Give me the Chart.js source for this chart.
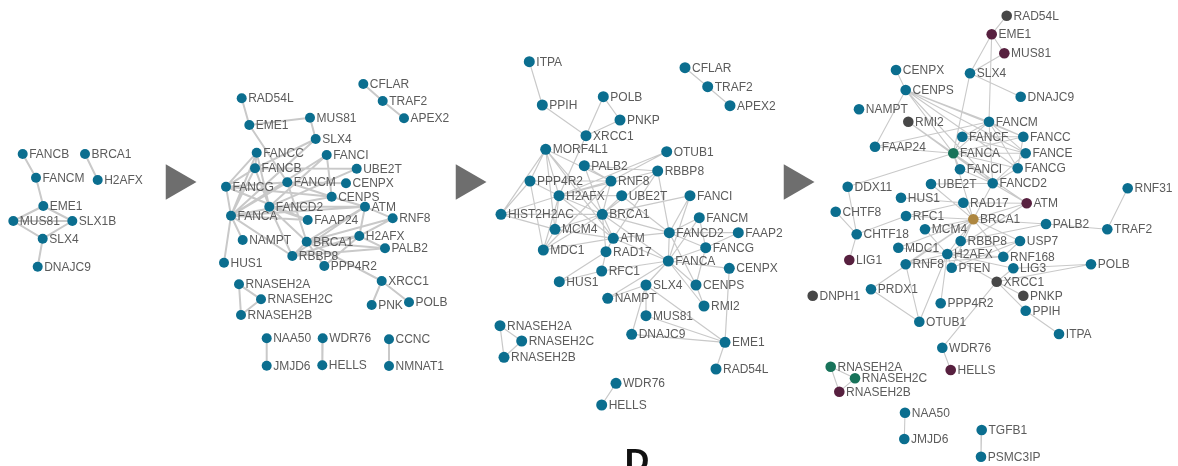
<!DOCTYPE html>
<html>
<head>
<meta charset="utf-8">
<script src="https://cdn.jsdelivr.net/npm/chart.js@4.4.1/dist/chart.umd.min.js"></script>
<style>
  html, body { margin: 0; padding: 0; background: #ffffff; }
  #wrap { width: 1178px; height: 466px; position: relative; }
</style>
</head>
<body>
<div id="wrap"><canvas id="net" width="1178" height="466"></canvas></div>
<script>
// ---- Network stage 1: seed genes ----
const stage1Nodes = [
  ["FANCB", 22.7, 154], ["BRCA1", 85, 154], ["FANCM", 36, 177.7], ["H2AFX", 97.7, 180],
  ["EME1", 43.3, 206], ["MUS81", 13.3, 221], ["SLX1B", 72.3, 221], ["SLX4", 42.7, 238.7],
  ["DNAJC9", 37.7, 266.7]
];
const stage1Edges = [
  ["FANCB", "FANCM"], ["BRCA1", "H2AFX"], ["FANCM", "EME1"], ["EME1", "MUS81"], ["EME1", "SLX1B"],
  ["MUS81", "SLX1B"], ["MUS81", "SLX4"], ["SLX1B", "SLX4"], ["SLX4", "DNAJC9"]
];

// ---- Network stage 2 ----
const stage2Nodes = [
  ["CFLAR", 363.3, 84], ["TRAF2", 382.7, 101], ["APEX2", 404, 118.3], ["RAD54L", 241.7, 98.3],
  ["EME1", 249.3, 125], ["MUS81", 310, 117.7], ["SLX4", 315.7, 139], ["FANCC", 256.7, 152.7],
  ["FANCI", 326.7, 155], ["FANCB", 255, 168.3], ["UBE2T", 356.7, 168.7], ["FANCG", 226, 186.7],
  ["FANCM", 287.3, 182.3], ["CENPX", 346, 183.3], ["CENPS", 331.7, 196.7], ["FANCD2", 269.3, 206.7],
  ["ATM", 365, 206.7], ["FANCA", 231, 215.7], ["FAAP24", 307.7, 220], ["RNF8", 392.7, 218.3],
  ["NAMPT", 242.7, 240], ["BRCA1", 306.7, 241.7], ["H2AFX", 359.3, 236], ["PALB2", 385, 248.3],
  ["RBBP8", 292.3, 256], ["HUS1", 224, 262.7], ["PPP4R2", 324.3, 266], ["XRCC1", 381.7, 281],
  ["RNASEH2A", 239, 284.3], ["RNASEH2C", 261, 299.3], ["RNASEH2B", 241, 315], ["PNK", 371.7, 305],
  ["POLB", 409, 302.3], ["NAA50", 266.7, 338.3], ["WDR76", 322.7, 338.3], ["CCNC", 389, 339.3],
  ["JMJD6", 266.7, 365.7], ["HELLS", 322.3, 365.3], ["NMNAT1", 389, 366]
];
const stage2Edges = [
  ["CFLAR", "TRAF2"], ["TRAF2", "APEX2"], ["RAD54L", "EME1"], ["EME1", "MUS81"], ["MUS81", "SLX4"],
  ["EME1", "FANCM"], ["SLX4", "FANCB"], ["SLX4", "FANCA"],
  ["FANCC", "FANCB"], ["FANCC", "FANCG"], ["FANCC", "FANCA"], ["FANCC", "FANCD2"],
  ["FANCB", "UBE2T"], ["FANCB", "FANCA"], ["FANCB", "FANCG"], ["FANCB", "FANCD2"],
  ["FANCI", "FANCD2"], ["FANCI", "CENPS"], ["FANCI", "FANCA"],
  ["FANCG", "FANCA"], ["FANCG", "FANCM"], ["FANCG", "CENPS"], ["FANCG", "FAAP24"],
  ["FANCM", "CENPX"], ["FANCM", "FANCA"], ["FANCM", "CENPS"], ["FANCM", "BRCA1"],
  ["UBE2T", "FANCD2"], ["FANCD2", "ATM"], ["FANCD2", "BRCA1"], ["FANCD2", "RBBP8"], ["FANCD2", "FAAP24"],
  ["FANCA", "FAAP24"], ["FANCA", "HUS1"], ["FANCA", "NAMPT"], ["FANCA", "ATM"], ["FANCA", "RBBP8"],
  ["CENPS", "FANCA"], ["CENPS", "ATM"],
  ["ATM", "BRCA1"], ["ATM", "H2AFX"], ["ATM", "RNF8"], ["ATM", "RBBP8"],
  ["RNF8", "H2AFX"], ["RNF8", "BRCA1"],
  ["H2AFX", "BRCA1"], ["H2AFX", "PALB2"], ["H2AFX", "RBBP8"], ["H2AFX", "PPP4R2"],
  ["BRCA1", "PALB2"], ["BRCA1", "RBBP8"], ["BRCA1", "XRCC1"], ["BRCA1", "PPP4R2"], ["RBBP8", "PALB2"],
  ["XRCC1", "PNK"], ["XRCC1", "POLB"],
  ["RNASEH2A", "RNASEH2B"], ["RNASEH2A", "RNASEH2C"], ["RNASEH2C", "RNASEH2B"],
  ["NAA50", "JMJD6"], ["WDR76", "HELLS"], ["CCNC", "NMNAT1"]
];

// ---- Network stage 3 ----
const stage3Nodes = [
  ["ITPA", 529.3, 61.7], ["CFLAR", 685, 67.7], ["TRAF2", 707.7, 86.7], ["APEX2", 730, 105.7],
  ["POLB", 603.3, 96.7], ["PPIH", 542.3, 105], ["PNKP", 620, 120], ["XRCC1", 586, 135.7],
  ["MORF4L1", 545.7, 149.3], ["OTUB1", 666.7, 151.7], ["PALB2", 584.3, 165.7], ["RBBP8", 657.7, 171],
  ["PPP4R2", 530, 181], ["RNF8", 611, 181], ["H2AFX", 559, 195.7], ["UBE2T", 621.7, 195.7],
  ["FANCI", 690, 195.7], ["HIST2H2AC", 501, 214.3], ["BRCA1", 602.3, 214.3], ["FANCM", 699.3, 217.7],
  ["MCM4", 555, 229.3], ["ATM", 613.3, 238.3], ["FANCD2", 669.3, 232.7], ["FAAP2", 738.3, 232.7],
  ["MDC1", 543.3, 250], ["RAD17", 606, 251.7], ["FANCG", 705.7, 247.7], ["FANCA", 668.3, 261],
  ["CENPX", 729.3, 268.3], ["RFC1", 601.7, 271], ["HUS1", 559.3, 281.7], ["SLX4", 646, 285],
  ["CENPS", 696, 285], ["NAMPT", 607.7, 298.3], ["RMI2", 704, 306], ["MUS81", 646, 315.7],
  ["RNASEH2A", 500, 325.7], ["DNAJC9", 631.7, 334.3], ["EME1", 725, 342.3], ["RNASEH2C", 521.7, 341],
  ["RNASEH2B", 504, 357.3], ["RAD54L", 716, 369], ["WDR76", 616, 383.3], ["HELLS", 601.7, 405]
];
const stage3Edges = [
  ["ITPA", "PPIH"], ["PPIH", "XRCC1"], ["POLB", "XRCC1"], ["POLB", "PNKP"], ["PNKP", "XRCC1"],
  ["XRCC1", "H2AFX"], ["CFLAR", "TRAF2"], ["TRAF2", "APEX2"],
  ["MORF4L1", "PPP4R2"], ["MORF4L1", "H2AFX"], ["MORF4L1", "BRCA1"], ["MORF4L1", "HIST2H2AC"],
  ["MORF4L1", "MCM4"], ["MORF4L1", "RNF8"], ["MORF4L1", "ATM"],
  ["PALB2", "RBBP8"], ["PALB2", "BRCA1"], ["PALB2", "RNF8"], ["OTUB1", "RNF8"], ["OTUB1", "H2AFX"],
  ["RBBP8", "BRCA1"], ["RBBP8", "ATM"], ["RBBP8", "H2AFX"], ["RBBP8", "FANCD2"],
  ["PPP4R2", "H2AFX"], ["PPP4R2", "HIST2H2AC"], ["PPP4R2", "RNF8"], ["PPP4R2", "MDC1"],
  ["RNF8", "H2AFX"], ["RNF8", "BRCA1"], ["RNF8", "MDC1"],
  ["H2AFX", "MDC1"], ["H2AFX", "ATM"], ["H2AFX", "BRCA1"], ["H2AFX", "HIST2H2AC"], ["H2AFX", "MCM4"],
  ["H2AFX", "UBE2T"], ["UBE2T", "FANCD2"], ["UBE2T", "BRCA1"],
  ["FANCI", "FANCD2"], ["FANCI", "FANCA"], ["FANCI", "BRCA1"],
  ["HIST2H2AC", "BRCA1"], ["HIST2H2AC", "MCM4"],
  ["BRCA1", "ATM"], ["BRCA1", "FANCD2"], ["BRCA1", "RAD17"], ["BRCA1", "MCM4"], ["BRCA1", "MDC1"], ["BRCA1", "FANCA"],
  ["MCM4", "ATM"], ["MCM4", "MDC1"], ["ATM", "FANCD2"], ["ATM", "RAD17"], ["ATM", "MDC1"], ["ATM", "FANCA"],
  ["RAD17", "RFC1"], ["RAD17", "HUS1"], ["RFC1", "HUS1"],
  ["FANCM", "FANCD2"], ["FANCM", "FANCA"], ["FANCM", "FANCG"],
  ["FANCD2", "FANCA"], ["FANCD2", "FAAP2"], ["FANCD2", "FANCG"], ["FANCD2", "CENPS"],
  ["FANCG", "FANCA"], ["FANCG", "CENPS"], ["FAAP2", "FANCG"],
  ["FANCA", "CENPX"], ["FANCA", "CENPS"], ["FANCA", "RMI2"], ["FANCA", "SLX4"], ["FANCA", "RFC1"], ["FANCA", "NAMPT"],
  ["SLX4", "MUS81"], ["SLX4", "EME1"], ["SLX4", "NAMPT"], ["SLX4", "DNAJC9"], ["MUS81", "EME1"],
  ["EME1", "RAD54L"], ["DNAJC9", "EME1"], ["CENPS", "RMI2"], ["CENPX", "EME1"],
  ["RNASEH2A", "RNASEH2C"], ["RNASEH2A", "RNASEH2B"], ["RNASEH2C", "RNASEH2B"], ["WDR76", "HELLS"]
];

// ---- Network stage 4 (with annotation classes) ----
const stage4Nodes = [
  ["RAD54L", 1006.7, 15.7], ["EME1", 991.7, 34.3], ["MUS81", 1004.3, 53.3], ["CENPX", 896, 70],
  ["SLX4", 970, 73.3], ["CENPS", 905.7, 90], ["DNAJC9", 1020.7, 96.7], ["NAMPT", 859, 109.3],
  ["RMI2", 908.3, 121.7], ["FANCM", 989, 121.7], ["FANCF", 962.3, 136.7], ["FANCC", 1023.3, 136.7],
  ["FAAP24", 875, 146.7], ["FANCA", 953.3, 153.3], ["FANCE", 1025.7, 153.3], ["FANCI", 960, 169.3],
  ["FANCG", 1017.7, 168.3], ["DDX11", 847.7, 186.7], ["UBE2T", 931, 184], ["FANCD2", 992.7, 183.3],
  ["RNF31", 1127.7, 188.3], ["HUS1", 901, 197.7], ["RAD17", 963.3, 202.7], ["ATM", 1026.7, 203.3],
  ["CHTF8", 835.7, 211.7], ["RFC1", 906, 216], ["BRCA1", 973.3, 219.3], ["PALB2", 1046, 224],
  ["TRAF2", 1107.3, 229.3], ["CHTF18", 856.7, 234.3], ["MCM4", 925, 229.3], ["RBBP8", 960.7, 241],
  ["USP7", 1020, 241], ["MDC1", 898.3, 247.7], ["H2AFX", 947.3, 254], ["RNF168", 1003.3, 256.7],
  ["LIG1", 849.3, 260], ["POLB", 1091, 264.3], ["RNF8", 905.7, 264.3], ["PTEN", 951.7, 267.7],
  ["LIG3", 1013.3, 268.3], ["XRCC1", 996.7, 281.7], ["DNPH1", 812.7, 295.7], ["PRDX1", 871, 289.3],
  ["PNKP", 1023.3, 295.7], ["PPP4R2", 940.7, 303.3], ["PPIH", 1025.7, 310.7], ["OTUB1", 919.3, 321.7],
  ["ITPA", 1059, 334], ["WDR76", 942.3, 347.7], ["HELLS", 950.7, 370], ["RNASEH2A", 830.7, 366.7],
  ["RNASEH2C", 855, 378.3], ["RNASEH2B", 839.3, 391.7], ["NAA50", 905, 412.7], ["JMJD6", 904.3, 439],
  ["TGFB1", 981.7, 430], ["PSMC3IP", 981, 456.7]
];
const stage4Edges = [
  ["RAD54L", "EME1"], ["EME1", "MUS81"], ["EME1", "SLX4"], ["EME1", "FANCM"], ["MUS81", "SLX4"],
  ["SLX4", "DNAJC9"], ["SLX4", "FANCA"], ["CENPX", "CENPS"],
  ["CENPS", "FANCM"], ["CENPS", "FANCA"], ["CENPS", "FANCC"], ["CENPS", "FANCE"], ["CENPS", "FANCG"],
  ["CENPS", "FANCD2"], ["CENPS", "FAAP24"], ["RMI2", "FANCA"], ["RMI2", "FANCD2"],
  ["FAAP24", "FANCA"], ["FAAP24", "FANCM"],
  ["FANCM", "FANCF"], ["FANCM", "FANCA"], ["FANCM", "FANCC"], ["FANCM", "FANCE"], ["FANCM", "FANCG"], ["FANCM", "FANCD2"],
  ["FANCF", "FANCA"], ["FANCF", "FANCC"], ["FANCF", "FANCE"],
  ["FANCA", "FANCC"], ["FANCA", "FANCE"], ["FANCA", "FANCI"], ["FANCA", "FANCG"], ["FANCA", "FANCD2"],
  ["FANCA", "DDX11"], ["FANCA", "BRCA1"], ["FANCA", "ATM"],
  ["FANCI", "FANCD2"], ["FANCG", "FANCD2"], ["FANCE", "FANCD2"], ["FANCC", "FANCG"],
  ["UBE2T", "FANCD2"], ["UBE2T", "BRCA1"], ["FANCD2", "BRCA1"], ["FANCD2", "ATM"],
  ["DDX11", "CHTF18"], ["CHTF8", "CHTF18"], ["CHTF18", "LIG1"], ["CHTF18", "RFC1"],
  ["HUS1", "RAD17"], ["RFC1", "RAD17"], ["RFC1", "BRCA1"],
  ["RAD17", "BRCA1"], ["RAD17", "ATM"], ["ATM", "BRCA1"], ["ATM", "H2AFX"],
  ["BRCA1", "PALB2"], ["BRCA1", "MCM4"], ["BRCA1", "RBBP8"], ["BRCA1", "H2AFX"], ["BRCA1", "MDC1"],
  ["BRCA1", "RNF8"], ["BRCA1", "USP7"], ["BRCA1", "RNF168"], ["BRCA1", "PTEN"], ["BRCA1", "PRDX1"],
  ["PALB2", "TRAF2"], ["RNF31", "TRAF2"], ["PALB2", "RBBP8"],
  ["H2AFX", "MDC1"], ["H2AFX", "RNF8"], ["H2AFX", "RNF168"], ["H2AFX", "PTEN"], ["H2AFX", "USP7"],
  ["H2AFX", "PPP4R2"], ["H2AFX", "OTUB1"], ["H2AFX", "LIG3"], ["MCM4", "H2AFX"],
  ["RNF8", "RNF168"], ["RNF8", "OTUB1"], ["USP7", "RNF168"], ["USP7", "PTEN"],
  ["LIG3", "XRCC1"], ["LIG3", "POLB"], ["XRCC1", "POLB"], ["XRCC1", "PNKP"], ["XRCC1", "PPIH"],
  ["PPIH", "ITPA"], ["XRCC1", "H2AFX"], ["PRDX1", "OTUB1"], ["XRCC1", "WDR76"], ["WDR76", "HELLS"],
  ["RNASEH2A", "RNASEH2C"], ["RNASEH2A", "RNASEH2B"], ["RNASEH2C", "RNASEH2B"],
  ["NAA50", "JMJD6"], ["TGFB1", "PSMC3IP"]
];

// Node classes in stage 4 that are not the default teal
const grayGenes = ["RAD54L", "RMI2", "XRCC1", "DNPH1", "PNKP"];
const purpleGenes = ["EME1", "MUS81", "ATM", "LIG1", "HELLS", "RNASEH2B"];
const greenGenes = ["FANCA", "RNASEH2A", "RNASEH2C"];
const goldGenes = ["BRCA1"];

// Step arrows between the stages
const arrowX = [176, 466, 794];
const arrowY = [182, 182, 182];

const COLORS = {
  teal: "#0b6e8f", gray: "#474747", purple: "#57203f", green: "#18735a", gold: "#ad8640",
  edge: "#c9c9c9", label: "#5b5b5b", arrow: "#6e6e6e"
};

function nodeData(nodes) {
  return nodes.map(n => ({ x: n[1], y: n[2], label: n[0] }));
}
function edgeData(nodes, edges) {
  const byName = {};
  nodes.forEach(n => { byName[n[0]] = n; });
  const out = [];
  edges.forEach(e => {
    const a = byName[e[0]], b = byName[e[1]];
    if (!a || !b) return;
    out.push({ x: a[1], y: a[2] }, { x: b[1], y: b[2] }, { x: null, y: null });
  });
  return out;
}
function colorFor(name, classed) {
  if (!classed) return COLORS.teal;
  if (goldGenes.includes(name)) return COLORS.gold;
  if (greenGenes.includes(name)) return COLORS.green;
  if (purpleGenes.includes(name)) return COLORS.purple;
  if (grayGenes.includes(name)) return COLORS.gray;
  return COLORS.teal;
}

function edgeSet(nodes, edges, width) {
  return {
    type: "line", order: 3, data: edgeData(nodes, edges),
    borderColor: COLORS.edge, borderWidth: width, pointRadius: 0, tension: 0,
    fill: false, spanGaps: false, isEdges: true
  };
}
function nodeSet(nodes, radius, classed) {
  return {
    type: "scatter", order: 1, data: nodeData(nodes),
    pointRadius: radius, pointHoverRadius: radius, borderWidth: 0,
    pointBackgroundColor: nodes.map(n => colorFor(n[0], classed)),
    isNodes: true
  };
}

// Draws gene names beside their nodes, and the panel letter
const nodeLabels = {
  id: "nodeLabels",
  afterDatasetsDraw(chart) {
    const ctx = chart.ctx;
    ctx.save();
    ctx.fillStyle = COLORS.label;
    ctx.font = "12px 'Liberation Sans', Arial, sans-serif";
    ctx.textBaseline = "middle";
    ctx.textAlign = "left";
    chart.data.datasets.forEach((ds, i) => {
      if (!ds.isNodes) return;
      const meta = chart.getDatasetMeta(i);
      meta.data.forEach((pt, j) => {
        const r = ds.pointRadius;
        ctx.fillText(ds.data[j].label, pt.x + r + 1.5, pt.y + 0.5);
      });
    });
    ctx.fillStyle = "#111111";
    ctx.font = "bold 34px 'Liberation Sans', Arial, sans-serif";
    ctx.textAlign = "center";
    ctx.textBaseline = "alphabetic";
    ctx.fillText("D", chart.scales.x.getPixelForValue(637), chart.scales.y.getPixelForValue(472));
    ctx.restore();
  }
};

new Chart(document.getElementById("net"), {
  type: "scatter",
  data: {
    datasets: [
      {
        type: "scatter", order: 0,
        data: arrowX.map((x, i) => ({ x: x, y: arrowY[i] })),
        pointStyle: "triangle", rotation: 90, pointRadius: 20.5, pointHoverRadius: 20.5,
        backgroundColor: COLORS.arrow, borderWidth: 0
      },
      nodeSet(stage1Nodes, 5, false),
      nodeSet(stage2Nodes, 5, false),
      nodeSet(stage3Nodes, 5.5, false),
      nodeSet(stage4Nodes, 5.3, true),
      edgeSet(stage1Nodes, stage1Edges, 2),
      edgeSet(stage2Nodes, stage2Edges, 2),
      edgeSet(stage3Nodes, stage3Edges, 1.2),
      edgeSet(stage4Nodes, stage4Edges, 1.1)
    ]
  },
  options: {
    responsive: false,
    animation: false,
    devicePixelRatio: 1,
    layout: { padding: 0, autoPadding: false },
    events: [],
    plugins: { legend: { display: false }, tooltip: { enabled: false } },
    scales: {
      x: { type: "linear", min: 0, max: 1178, display: false },
      y: { type: "linear", min: 0, max: 466, reverse: true, display: false }
    }
  },
  plugins: [nodeLabels]
});
</script>
</body>
</html>
